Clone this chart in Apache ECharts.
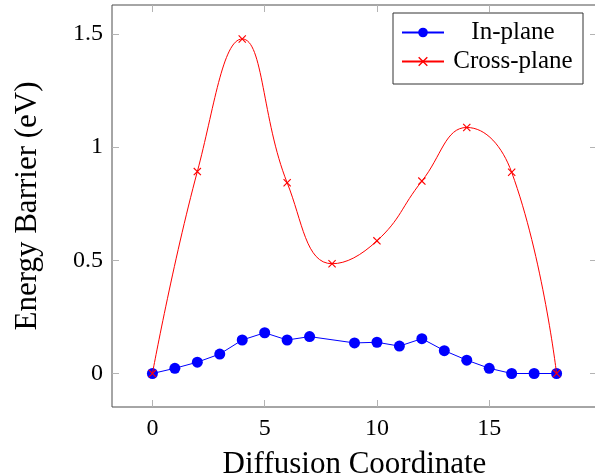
<!DOCTYPE html>
<html>
<head>
<meta charset="utf-8">
<script src="https://cdn.jsdelivr.net/npm/echarts@6/dist/echarts.min.js"></script>
<style>html,body{margin:0;padding:0;background:#fff;}#c{width:595px;height:476px;}</style>
</head>
<body>
<div id="c"></div>
<script>
const inPlaneX = [0, 1, 2, 3, 4, 5, 6, 7, 9, 10, 11, 12, 13, 14, 15, 16, 17, 18];
const inPlaneY = [0, 0.023, 0.050, 0.086, 0.148, 0.180, 0.148, 0.163, 0.135, 0.138, 0.121, 0.154, 0.101, 0.059, 0.023, 0, 0, 0];
const crossPlaneX = [0, 2, 4, 6, 8, 10, 12, 14, 16, 18];
const crossPlaneY = [0, 0.892, 1.478, 0.843, 0.485, 0.586, 0.850, 1.087, 0.889, 0];
const xTicks = [0, 5, 10, 15];
const yTicks = [0, 0.5, 1, 1.5];
const seriesNames = ['In-plane', 'Cross-plane'];
const xTitle = 'Diffusion Coordinate';
const yTitle = 'Energy Barrier (eV)';

const FONT = 'Liberation Serif';
const crossPath = 'path://M0,1L1,0L5,4L9,0L10,1L6,5L10,9L9,10L5,6L1,10L0,9L4,5Z';
const tickStyle = { show: true, inside: true, length: 7, lineStyle: { color: '#b3b3b3', width: 1 } };
const noLine = { show: false, onZero: false };

const chart = echarts.init(document.getElementById('c'), null, { renderer: 'canvas' });
chart.setOption({
  animation: false,
  backgroundColor: '#fff',
  textStyle: { fontFamily: FONT },
  grid: { left: 112, top: 5, right: -2, bottom: 69, show: true, borderColor: '#4d4d4d', borderWidth: 1, containLabel: false, outerBoundsMode: 'none' },
  legend: {
    data: seriesNames,
    orient: 'vertical',
    left: 393, top: 13,
    padding: [7, 6, 10, 8],
    itemGap: 4,
    itemWidth: 42, itemHeight: 12,
    borderColor: '#333', borderWidth: 1,
    backgroundColor: '#fff',
    formatter: name => '{t|' + name + '}',
    textStyle: {
      rich: { t: { width: 128, align: 'center', fontFamily: FONT, fontSize: 25, color: '#000', lineHeight: 26 } }
    }
  },
  xAxis: [{
    type: 'value', min: -1.8, max: 19.8, position: 'bottom',
    name: xTitle, nameLocation: 'middle', nameGap: 42,
    nameTextStyle: { fontFamily: FONT, fontSize: 31, color: '#000' },
    splitLine: { show: false },
    axisLine: noLine,
    axisTick: Object.assign({ customValues: xTicks }, tickStyle),
    axisLabel: { customValues: xTicks, fontFamily: FONT, fontSize: 24, color: '#000', margin: 10 }
  }, {
    type: 'value', min: -1.8, max: 19.8, position: 'top',
    splitLine: { show: false }, axisLine: noLine,
    axisTick: Object.assign({ customValues: xTicks }, tickStyle),
    axisLabel: { show: false }
  }],
  yAxis: [{
    type: 'value', min: -0.148, max: 1.628, position: 'left',
    name: yTitle, nameLocation: 'middle', nameGap: 69,
    nameTextStyle: { fontFamily: FONT, fontSize: 31, color: '#000' },
    splitLine: { show: false },
    axisLine: noLine,
    axisTick: Object.assign({ customValues: yTicks }, tickStyle),
    axisLabel: { customValues: yTicks, fontFamily: FONT, fontSize: 24, color: '#000', margin: 9 }
  }, {
    type: 'value', min: -0.148, max: 1.628, position: 'right',
    splitLine: { show: false }, axisLine: noLine,
    axisTick: Object.assign({ customValues: yTicks }, tickStyle),
    axisLabel: { show: false }
  }],
  series: [{
    name: seriesNames[0], type: 'line',
    data: inPlaneX.map((x, i) => [x, inPlaneY[i]]),
    symbol: 'circle', symbolSize: 11,
    itemStyle: { color: '#0000ff' },
    lineStyle: { color: '#0000ff', width: 1 },
    z: 2
  }, {
    name: seriesNames[1], type: 'line',
    data: crossPlaneX.map((x, i) => [x, crossPlaneY[i]]),
    smooth: 0.45,
    symbol: crossPath, symbolSize: 8,
    itemStyle: { color: '#ff0000' },
    lineStyle: { color: '#ff0000', width: 1 },
    z: 3
  }]
});
</script>
</body>
</html>
